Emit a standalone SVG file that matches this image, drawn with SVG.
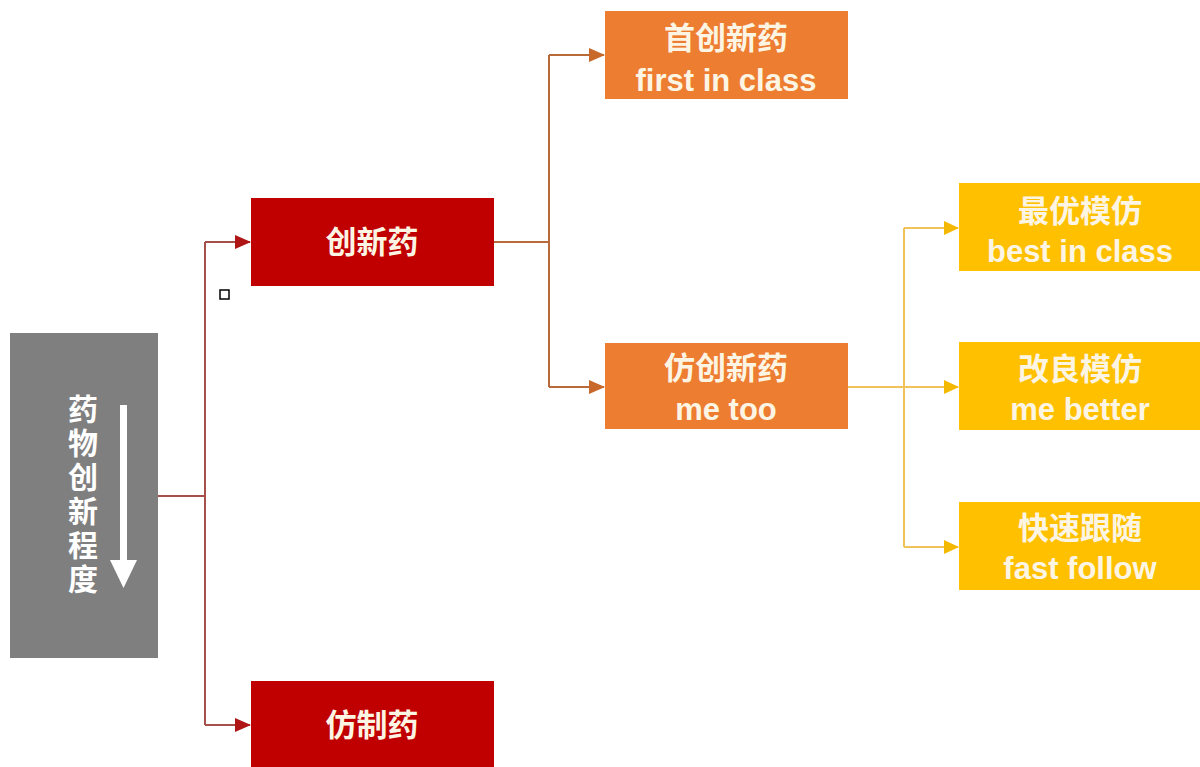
<svg xmlns="http://www.w3.org/2000/svg" width="1200" height="767" viewBox="0 0 1200 767">
<defs>
<style>
.t{font-family:"Liberation Sans","Noto Sans CJK SC",sans-serif;font-weight:bold;fill:#fdf5e4;text-anchor:middle}
.zh{font-size:31px;font-family:"Noto Sans CJK SC",sans-serif}
.en{font-size:31px}
.v{font-size:30px;font-family:"Noto Sans CJK SC",sans-serif;font-weight:bold;fill:#ffffff;letter-spacing:4px}
.red{fill:#c00000}
.org{fill:#ed7d31}
.yel{fill:#ffc000}
.c1{fill:none;stroke:#a5504a;stroke-width:2}
.c2{fill:none;stroke:#b86a3a;stroke-width:2}
.c3{fill:none;stroke:#f2c25a;stroke-width:2}
</style>
<marker id="mr" markerWidth="16" markerHeight="14" refX="15" refY="7" orient="auto" markerUnits="userSpaceOnUse" viewBox="0 0 16 14"><path d="M0,0 L16,7 L0,14 z" fill="#b01515"/></marker>
<marker id="mo" markerWidth="16" markerHeight="14" refX="15" refY="7" orient="auto" markerUnits="userSpaceOnUse" viewBox="0 0 16 14"><path d="M0,0 L16,7 L0,14 z" fill="#c8682a"/></marker>
<marker id="my" markerWidth="15" markerHeight="14" refX="14" refY="7" orient="auto" markerUnits="userSpaceOnUse" viewBox="0 0 15 14"><path d="M0,0 L15,7 L0,14 z" fill="#f5b800"/></marker>
</defs>
<rect width="1200" height="767" fill="#ffffff"/>
<g id="connectors">
<path class="c1" d="M158,496 H205"/>
<path class="c1" d="M205,242 V725"/>
<path class="c1" d="M205,242 H250" marker-end="url(#mr)"/>
<path class="c1" d="M205,725 H250" marker-end="url(#mr)"/>
<path class="c2" d="M494,242 H549 M549,55 V387"/>
<path class="c2" d="M549,55 H604" marker-end="url(#mo)"/>
<path class="c2" d="M549,387 H604" marker-end="url(#mo)"/>
<path class="c3" d="M848,387 H904 M904,228 V547"/>
<path class="c3" d="M904,228 H958" marker-end="url(#my)"/>
<path class="c3" d="M904,387 H958" marker-end="url(#my)"/>
<path class="c3" d="M904,547 H958" marker-end="url(#my)"/>
</g>
<g id="degree">
<rect x="10" y="333" width="148" height="325" fill="#7f7f7f"/>
<text class="v" x="83" y="394" writing-mode="tb">药物创新程度</text>
<rect x="120" y="405" width="7" height="158" fill="#ffffff"/>
<path d="M110,560 L137,560 L123.5,588 z" fill="#ffffff"/>
</g>
<g id="innovative">
<rect class="red" x="251" y="198" width="243" height="88"/>
<text class="t zh" x="372" y="253">创新药</text>
</g>
<rect x="220" y="290" width="9" height="9" fill="#ffffff" stroke="#000000" stroke-width="1.5"/>
<g id="generic">
<rect class="red" x="251" y="681" width="243" height="90"/>
<text class="t zh" x="372" y="736">仿制药</text>
</g>
<g id="first">
<rect class="org" x="605" y="11" width="243" height="88"/>
<text class="t zh" x="726" y="49">首创新药</text>
<text class="t en" x="726" y="91">first in class</text>
</g>
<g id="metoo">
<rect class="org" x="605" y="343" width="243" height="86"/>
<text class="t zh" x="726" y="379">仿创新药</text>
<text class="t en" x="726" y="420">me too</text>
</g>
<g id="best">
<rect class="yel" x="959" y="183" width="245" height="88"/>
<text class="t zh" x="1080" y="222">最优模仿</text>
<text class="t en" x="1080" y="262">best in class</text>
</g>
<g id="better">
<rect class="yel" x="959" y="342" width="245" height="88"/>
<text class="t zh" x="1080" y="380">改良模仿</text>
<text class="t en" x="1080" y="420">me better</text>
</g>
<g id="fast">
<rect class="yel" x="959" y="502" width="245" height="88"/>
<text class="t zh" x="1080" y="539">快速跟随</text>
<text class="t en" x="1080" y="579">fast follow</text>
</g>
</svg>
